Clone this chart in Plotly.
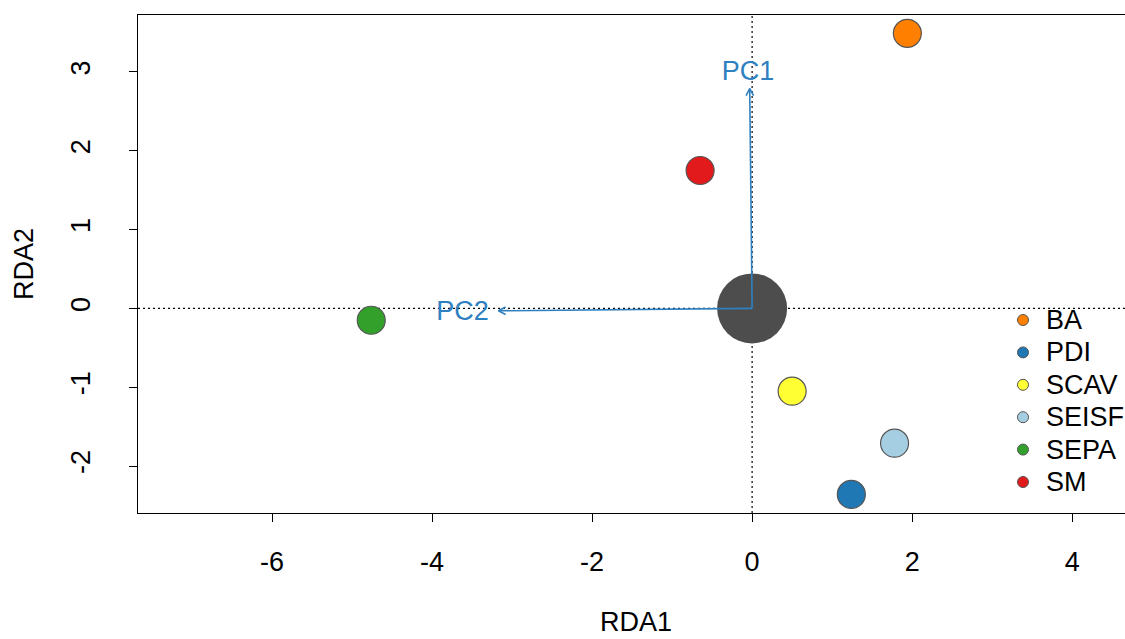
import math
import plotly.graph_objects as go

# ---------------- data ----------------
groups = ["BA", "PDI", "SCAV", "SEISF", "SEPA", "SM"]
rda1 = [1.94, 1.24, 0.50, 1.78, -4.76, -0.65]
rda2 = [3.49, -2.36, -1.05, -1.71, -0.15, 1.75]
group_colors = ["#FF7F00", "#1F78B4", "#FFFF33", "#A6CEE3", "#33A02C", "#E31A1C"]

site_x = [0.0]
site_y = [0.0]

arrow_names = ["PC1", "PC2"]
arrow_x = [-0.03, -3.17]
arrow_y = [2.79, -0.03]
label_x = [-0.05, -3.62]
label_y = [2.98, -0.06]

x_ticks = [-6, -4, -2, 0, 2, 4]
y_ticks = [-2, -1, 0, 1, 2, 3]
x_title = "RDA1"
y_title = "RDA2"

# ---------------- layout constants ----------------
W, H = 1125, 639
ML, MR, MT, MB = 138, 0, 15, 126
PW, PH = W - ML - MR, H - MT - MB
XR = [-7.675, 4.66]
YR = [-2.596, 3.723]
FONT = "Liberation Sans, Arial, sans-serif"
FS = 27
ARROW_COL = "#2F80C0"

# legend geometry (pixels inside the plot area)
LEG_ROW_GAP = 32.4          # px between legend rows
LEG_FIRST_ROW = 320 - MT    # px from top of plot area to first row centre
LEG_MARK_X = 1023 - ML      # px from left of plot area to legend symbol
LEG_TEXT_X = 1044 - ML      # px from left of plot area to legend text

px_x = PW / (XR[1] - XR[0])
px_y = PH / (YR[1] - YR[0])

fig = go.Figure()

# central cloud of sites
fig.add_trace(go.Scatter(x=site_x, y=site_y, mode="markers",
                         marker=dict(size=70, color="#4D4D4D", line=dict(width=0)),
                         showlegend=False, hoverinfo="skip"))

# arrows (shaft + open head computed in pixel space)
head_len, head_ang = 8.0, math.radians(28)
for nm, ax, ay in zip(arrow_names, arrow_x, arrow_y):
    fig.add_trace(go.Scatter(x=[0, ax], y=[0, ay], mode="lines",
                             line=dict(color=ARROW_COL, width=1.6),
                             showlegend=False, hoverinfo="skip"))
    ang = math.atan2(ay * px_y, ax * px_x)
    hx, hy = [], []
    for s in (1, -1):
        a = ang + math.pi + s * head_ang
        hx.append(ax + head_len * math.cos(a) / px_x)
        hy.append(ay + head_len * math.sin(a) / px_y)
    fig.add_trace(go.Scatter(x=[hx[0], ax, hx[1]], y=[hy[0], ay, hy[1]], mode="lines",
                             line=dict(color=ARROW_COL, width=1.6),
                             showlegend=False, hoverinfo="skip"))

fig.add_trace(go.Scatter(x=label_x, y=label_y, mode="text", text=arrow_names,
                         textfont=dict(family=FONT, size=FS, color=ARROW_COL),
                         showlegend=False, hoverinfo="skip"))

# group centroids
fig.add_trace(go.Scatter(x=rda1, y=rda2, mode="markers", text=groups,
                         marker=dict(size=28, color=group_colors,
                                     line=dict(color="#555555", width=1.2)),
                         showlegend=False, hovertemplate="%{text}<extra></extra>"))

# legend drawn on an invisible overlay axis (x in px, y in legend rows)
rows = list(range(len(groups)))
fig.add_trace(go.Scatter(x=[LEG_MARK_X] * len(groups), y=rows, mode="markers",
                         xaxis="x2", yaxis="y2",
                         marker=dict(size=11, color=group_colors,
                                     line=dict(color="#555555", width=1)),
                         showlegend=False, hoverinfo="skip"))
for r, g in zip(rows, groups):
    fig.add_annotation(x=LEG_TEXT_X, y=r, xref="x2", yref="y2", text=g,
                       showarrow=False, xanchor="left", yanchor="middle",
                       font=dict(family=FONT, size=FS, color="black"))

y2_top = -LEG_FIRST_ROW / LEG_ROW_GAP
y2_bot = y2_top + PH / LEG_ROW_GAP

# axis titles (R places them at fixed line offsets from the plot box)
fig.add_annotation(x=(636 - ML) / PW, y=0, xref="paper", yref="paper", text=x_title,
                   showarrow=False, xanchor="center", yanchor="bottom", yshift=-MB,
                   font=dict(family=FONT, size=FS, color="black"))
fig.add_annotation(x=0, y=0.5, xref="paper", yref="paper", text=y_title,
                   showarrow=False, xanchor="center", yanchor="middle", xshift=-114,
                   textangle=-90, font=dict(family=FONT, size=FS, color="black"))

# dotted zero lines
fig.add_shape(type="line", x0=0, x1=0, y0=YR[0], y1=YR[1], xref="x", yref="y",
              line=dict(color="black", width=1.2, dash="2px,3px"), layer="below")
fig.add_shape(type="line", x0=XR[0], x1=XR[1], y0=0, y1=0, xref="x", yref="y",
              line=dict(color="black", width=1.2, dash="2px,3px"), layer="below")

axis_common = dict(showgrid=False, zeroline=False, showline=True, linecolor="black",
                   linewidth=1.2, ticks="outside", ticklen=8, tickwidth=1.2,
                   automargin=False,
                   tickcolor="black", tickfont=dict(family=FONT, size=FS, color="black"))

fig.update_layout(
    width=W, height=H,
    margin=dict(l=ML, r=MR, t=MT, b=MB),
    paper_bgcolor="white", plot_bgcolor="white",
    font=dict(family=FONT, color="black"),
    xaxis=dict(range=XR, tickvals=x_ticks, ticktext=[str(v) for v in x_ticks],
               mirror=True, ticklabelstandoff=16, **axis_common),
    yaxis=dict(range=YR, tickvals=y_ticks, ticktext=[str(v) for v in y_ticks],
               tickangle=-90, mirror=False, ticklabelstandoff=28, **axis_common),
    xaxis2=dict(domain=[0, 1], range=[0, PW], visible=False, anchor="y2",
                overlaying="x", fixedrange=True, automargin=False),
    yaxis2=dict(domain=[0, 1], range=[y2_bot, y2_top], visible=False, anchor="x2",
                overlaying="y", fixedrange=True, automargin=False),
    showlegend=False,
)

fig.write_html("out.html")
